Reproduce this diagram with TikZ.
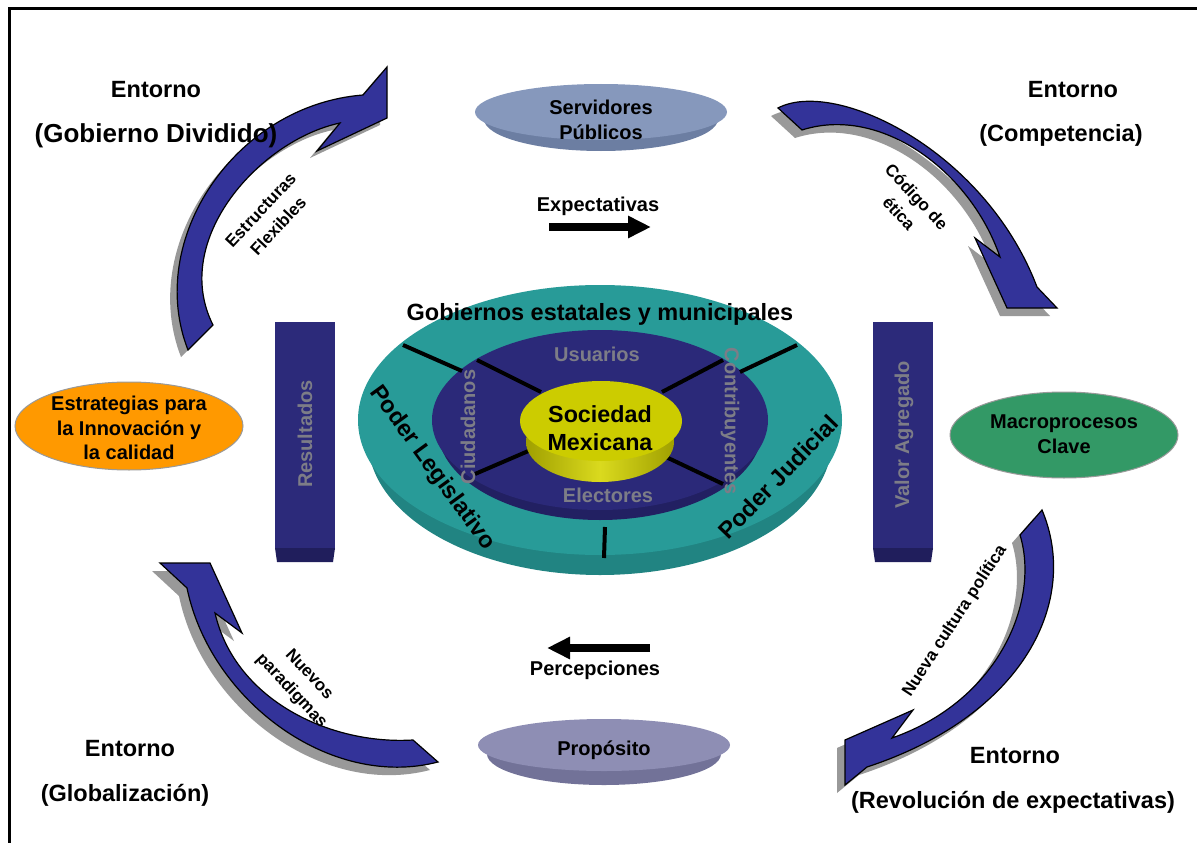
\documentclass[tikz,border=0pt]{standalone}
\usepackage{fontspec}
\setmainfont{Liberation Sans}
\usetikzlibrary{arrows.meta}

\definecolor{arrowblue}{RGB}{51,51,153}
\definecolor{shadowgrey}{RGB}{153,153,153}
\definecolor{ringteal}{RGB}{40,155,152}
\definecolor{ringtealside}{RGB}{33,132,130}
\definecolor{coreblue}{RGB}{43,41,121}
\definecolor{corebluesidec}{RGB}{34,32,98}
\definecolor{sunyellow}{RGB}{204,204,0}
\definecolor{sunyellowdark}{RGB}{160,160,0}
\definecolor{sunyellowlight}{RGB}{218,218,30}
\definecolor{labelgrey}{RGB}{125,125,135}
\definecolor{servtop}{RGB}{134,152,188}
\definecolor{servside}{RGB}{108,126,162}
\definecolor{proptop}{RGB}{142,142,180}
\definecolor{propside}{RGB}{114,114,152}
\definecolor{pillar}{RGB}{44,42,122}
\definecolor{pillarfoot}{RGB}{32,30,92}
\definecolor{strategyorange}{RGB}{255,153,0}
\definecolor{processgreen}{RGB}{51,153,102}

% outlines of the four curved block arrows
\def\arrowpathTL{(188,350) .. controls (145,240) and (235,105) .. (363,95) -- (387,67) -- (387,118) -- (317,151) -- (340,123) .. controls (260,140) and (170,240) .. (213,325) -- cycle}
\def\arrowpathTR{(778,108) .. controls (835,78) and (985,150) .. (1037,287) -- (1057,308) -- (1007,308) -- (975,238) -- (1000,257) .. controls (970,170) and (880,105) .. (802,130) -- cycle}
\def\arrowpathBL{(438,762) .. controls (330,790) and (210,700) .. (187,588) -- (160,563) -- (210,563) -- (242,633) -- (215,613) .. controls (235,700) and (330,745) .. (413,740) -- cycle}
\def\arrowpathBR{(1042,510) .. controls (1080,600) and (1025,715) .. (867,767) -- (845,785) -- (845,740) -- (913,710) -- (892,738) .. controls (1000,700) and (1040,600) .. (1020,535) -- cycle}

\begin{document}
\begin{tikzpicture}[x=1pt,y=-1pt,
  bigtxt/.style={font=\bfseries\fontsize{23.5}{28}\selectfont, inner sep=0, align=center},
  medtxt/.style={font=\bfseries\fontsize{20}{24.5}\selectfont, inner sep=0, align=center},
  arrowtxt/.style={font=\bfseries\fontsize{17}{24}\selectfont, inner sep=0, align=center},
  greylbl/.style={medtxt, text=labelgrey},
  blockarrow/.style={fill=arrowblue, draw=black, line width=1.2pt, line join=miter},
  arrowshade/.style={fill=shadowgrey},
  spoke/.style={line width=4pt, black},
  flatarrow/.style={line width=8pt, -{Triangle[length=23pt,width=21pt]}},
]
\useasboundingbox (0,0) rectangle (1197,843);
\fill[white] (0,0) rectangle (1197,843);

% frame
\draw[line width=3pt] (9,843) -- (9,9) -- (1197,9);

% curved block arrows with their drop shadows
\fill[arrowshade, shift={(-7,7)}] \arrowpathTL;
\filldraw[blockarrow] \arrowpathTL;
\fill[arrowshade, shift={(-7,8)}] \arrowpathTR;
\filldraw[blockarrow] \arrowpathTR;
\fill[arrowshade, shift={(-8,8)}] \arrowpathBL;
\filldraw[blockarrow] \arrowpathBL;
\fill[arrowshade, shift={(-8,8)}] \arrowpathBR;
\filldraw[blockarrow] \arrowpathBR;

\node[arrowtxt, rotate=47] (flex) at (269.5,218) {Estructuras\\Flexibles};
\node[arrowtxt, rotate=-47] (etica) at (908,205) {Código de\\ética};
\node[arrowtxt, rotate=-47] (parad) at (300,683) {Nuevos\\paradigmas};
\node[arrowtxt, rotate=57] (cultura) at (955,621) {Nueva cultura política};

% environment labels
\node[bigtxt, anchor=base] (e1) at (156,98) {Entorno};
\node[bigtxt, anchor=base, font=\bfseries\fontsize{26}{30}\selectfont] (e1b) at (156,142) {(Gobierno Dividido)};
\node[bigtxt, anchor=base] (e2) at (1073,98) {Entorno};
\node[bigtxt, anchor=base] (e2b) at (1061,141) {(Competencia)};
\node[bigtxt, anchor=base] (e3) at (130,756) {Entorno};
\node[bigtxt, anchor=base] (e3b) at (125,801) {(Globalización)};
\node[bigtxt, anchor=base] (e4) at (1015,763) {Entorno};
\node[bigtxt, anchor=base] (e4b) at (1013,808) {(Revolución de expectativas)};

% top disc: Servidores Publicos
\fill[servside] (601,119) ellipse [x radius=117, y radius=32];
\fill[servtop] (601,112) ellipse [x radius=126, y radius=28];
\node[medtxt] (serv) at (601,120) {Servidores\\Públicos};

% bottom disc: Proposito
\fill[propside] (604,754) ellipse [x radius=117, y radius=31];
\fill[proptop] (604,745) ellipse [x radius=126, y radius=26];
\node[medtxt] (prop) at (604,750) {Propósito};

% flow arrows
\node[medtxt] (expect) at (598,206) {Expectativas};
\coordinate (expA) at (549,227);
\coordinate (expB) at (651,227);
\draw[flatarrow] (expA) -- (expB);
\node[medtxt] (percep) at (595,670) {Percepciones};
\coordinate (perA) at (650,648);
\coordinate (perB) at (547,648);
\draw[flatarrow] (perA) -- (perB);

% side pillars
\fill[pillar] (275,322) rectangle (335,548);
\fill[pillarfoot] (275,548) -- (335,548) -- (333,562) -- (277,562) -- cycle;
\node[greylbl, rotate=90] (res) at (305,434) {Resultados};
\fill[pillar] (873,322) rectangle (933,548);
\fill[pillarfoot] (873,548) -- (933,548) -- (931,562) -- (875,562) -- cycle;
\node[greylbl, rotate=90] (valor) at (904,435) {Valor Agregado};

% side ellipses
\filldraw[fill=strategyorange, draw=shadowgrey, line width=1pt] (129,426) ellipse [x radius=114, y radius=44];
\node[medtxt] (estr) at (129,428) {Estrategias para\\la Innovación y\\la calidad};
\filldraw[fill=processgreen, draw=shadowgrey, line width=1pt] (1064,435) ellipse [x radius=114, y radius=43];
\node[medtxt] (macro) at (1064,434) {Macroprocesos\\Clave};

% central stacked discs
\fill[ringtealside] (600,440) ellipse [x radius=232, y radius=135];
\fill[ringteal] (600,420) ellipse [x radius=242, y radius=135];
\fill[corebluesidec] (600,430) ellipse [x radius=162, y radius=90];
\fill[coreblue] (600,420) ellipse [x radius=168, y radius=90];

% spokes
\coordinate (s1a) at (403,345); \coordinate (s1b) at (462,371);
\coordinate (s2a) at (477,360); \coordinate (s2b) at (541,392);
\coordinate (s3a) at (797,345); \coordinate (s3b) at (740,372);
\coordinate (s4a) at (723,360); \coordinate (s4b) at (662,392);
\coordinate (s5a) at (533,449); \coordinate (s5b) at (475,474);
\coordinate (s6a) at (666,457); \coordinate (s6b) at (723,484);
\coordinate (s7a) at (605,527); \coordinate (s7b) at (604,558);
\draw[spoke] (s1a) -- (s1b);
\draw[spoke] (s2a) -- (s2b);
\draw[spoke] (s3a) -- (s3b);
\draw[spoke] (s4a) -- (s4b);
\draw[spoke] (s5a) -- (s5b);
\draw[spoke] (s6a) -- (s6b);
\draw[spoke] (s7a) -- (s7b);

% yellow core disc
\shade[left color=sunyellowdark, right color=sunyellowdark, middle color=sunyellowlight] (600,442) ellipse [x radius=74, y radius=40];
\fill[sunyellow] (601,421) ellipse [x radius=81, y radius=40];
\node[font=\bfseries\fontsize{23.3}{28}\selectfont, inner sep=0, align=center] (soc) at (600,428) {Sociedad\\Mexicana};

% ring labels
\node[bigtxt] (gob) at (600,314) {Gobiernos estatales y municipales};
\node[greylbl] (usu) at (597,354) {Usuarios};
\node[greylbl] (elec) at (608,495) {Electores};
\node[greylbl, rotate=90] (ciud) at (468,427) {Ciudadanos};
\node[greylbl, rotate=-90] (contr) at (730,421) {Contribuyentes};
\node[bigtxt, rotate=-54] (legis) at (432,468) {Poder Legislativo};
\node[bigtxt, rotate=46] (judic) at (778,477) {Poder Judicial};
\end{tikzpicture}
\end{document}
